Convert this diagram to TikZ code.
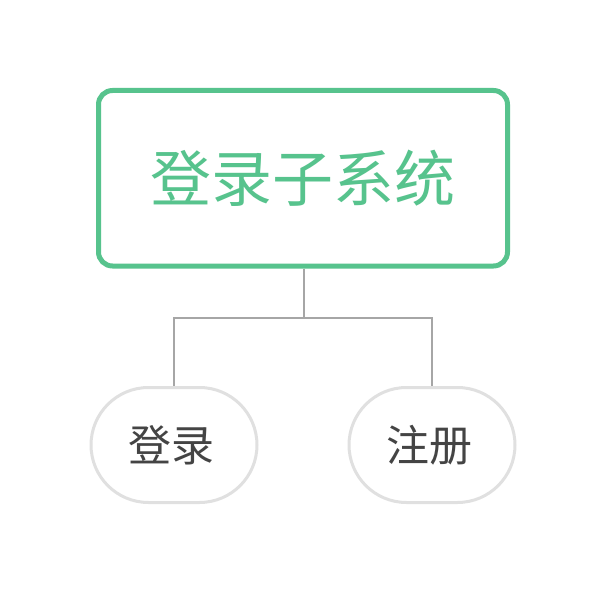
\documentclass[tikz,border=0pt]{standalone}
\usepackage{fontspec}
\setmainfont{Noto Sans CJK SC}
\usetikzlibrary{backgrounds}
\definecolor{boxgreen}{HTML}{57C38D}
\definecolor{linegray}{HTML}{A6A6A6}
\definecolor{pillgray}{HTML}{E0E0E0}
\definecolor{textdark}{HTML}{444444}
\begin{document}
\begin{tikzpicture}[x=1pt,y=-1pt,
  mainbox/.style={draw=boxgreen,line width=5pt,rounded corners=14pt,fill=white,
    minimum width=409pt,minimum height=175.5pt,inner sep=0pt,text=boxgreen,
    font=\fontsize{61}{72}\selectfont},
  pill/.style={draw=pillgray,line width=3pt,rounded corners=57.5pt,fill=white,
    minimum width=166pt,minimum height=115pt,inner sep=0pt,text=textdark,
    font=\fontsize{43}{50}\selectfont},
  conn/.style={draw=linegray,line width=2.8pt}]
\useasboundingbox (0,0) rectangle (606,594);
\node[mainbox] (top) at (303,178.25) {登录子系统};
\node[pill] (login) at (174,445) {\hspace*{-6pt}登录};
\node[pill] (reg) at (432,445) {\hspace*{-6pt}注册};
\coordinate (fork) at (304,318);
\begin{pgfonlayer}{background}
\draw[conn] (top.south -| fork) -- (fork);
\draw[conn] (login.north) |- (fork) -| (reg.north);
\end{pgfonlayer}
\end{tikzpicture}
\end{document}
